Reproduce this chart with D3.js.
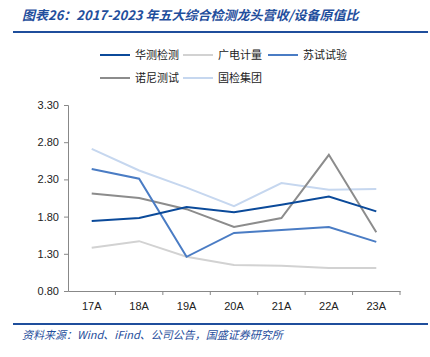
<!DOCTYPE html>
<html><head><meta charset="utf-8">
<script src="https://cdn.jsdelivr.net/npm/d3@7"></script>
<style>body{margin:0;background:#fff}svg{display:block}</style>
</head><body><svg id="c" width="430" height="357"></svg>
<script>
const categories = ["17A","18A","19A","20A","21A","22A","23A"];
const huace   = [1.74,1.78,1.93,1.86,1.96,2.07,1.87];
const grgt    = [1.38,1.47,1.26,1.15,1.14,1.11,1.11];
const sushi   = [2.44,2.31,1.26,1.58,1.62,1.66,1.46];
const nuoni   = [2.11,2.05,1.90,1.66,1.78,2.63,1.59];
const guojian = [2.71,2.42,2.19,1.94,2.25,2.16,2.17];
const seriesNames = ["华测检测","广电计量","苏试试验","诺尼测试","国检集团"];
const seriesColors = ["#0b4a9a","#d2d2d2","#4a7cc4","#8c8c8c","#c6d7ef"];
const yTicks = [0.80,1.30,1.80,2.30,2.80,3.30];
const titleText = "图表26：2017-2023 年五大综合检测龙头营收/设备原值比";
const sourceText = "资料来源：Wind、iFind、公司公告，国盛证券研究所";

const seriesData = [huace, grgt, sushi, nuoni, guojian];
const svg = d3.select("#c");
const font = "'Noto Sans CJK SC', 'Liberation Sans', sans-serif";

svg.append("text").attr("x",22).attr("y",20).attr("fill","#1f4e9c")
  .attr("font-family",font).attr("font-size",13).attr("font-style","italic")
  .attr("font-weight","bold").text(titleText);
svg.append("line").attr("x1",13).attr("x2",428).attr("y1",32).attr("y2",32)
  .attr("stroke","#1f4e9c").attr("stroke-width",2);

const x = d3.scaleBand().domain(categories).range([68,400]);
const y = d3.scaleLinear().domain([0.8,3.3]).range([291,105]);

// y axis
const ya = svg.append("g").attr("transform","translate(68,0)")
  .call(d3.axisLeft(y).tickValues(yTicks).tickFormat(d3.format(".2f")).tickSize(4));
ya.select(".domain").attr("stroke","#888");
ya.selectAll(".tick line").attr("stroke","#888");
ya.selectAll("text").attr("font-family","'Liberation Sans', sans-serif").attr("font-size",11).attr("fill","#222").attr("dx",-2);

// x axis
const xa = svg.append("g").attr("transform","translate(0,291)")
  .call(d3.axisBottom(x).tickSize(0).tickPadding(11));
xa.select(".domain").attr("stroke","#888");
xa.selectAll("text").attr("font-family","'Liberation Sans', sans-serif").attr("font-size",11).attr("fill","#222");
svg.append("g").selectAll("line").data(categories.slice(1).concat(["end"])).join("line")
  .attr("x1",(d,i)=> i<categories.length-1 ? x(d) : x.range()[1])
  .attr("x2",(d,i)=> i<categories.length-1 ? x(d) : x.range()[1])
  .attr("y1",291).attr("y2",295).attr("stroke","#888");

const line = d3.line().x((d,i)=>x(categories[i])+x.bandwidth()/2).y(d=>y(d));
const order = [1,4,3,2,0];
order.forEach(k=>{
  svg.append("path").datum(seriesData[k]).attr("d",line).attr("fill","none")
    .attr("stroke",seriesColors[k]).attr("stroke-width",2);
});

// legend
const legPos = [[100,55],[183,55],[268,55],[100,78],[183,78]];
seriesNames.forEach((n,i)=>{
  const [lx,ly] = legPos[i];
  svg.append("line").attr("x1",lx).attr("x2",lx+30).attr("y1",ly).attr("y2",ly)
    .attr("stroke",seriesColors[i]).attr("stroke-width",2);
  svg.append("text").attr("x",lx+35).attr("y",ly+4).attr("font-family",font)
    .attr("font-size",11).attr("fill","#222").text(n);
});

svg.append("line").attr("x1",13).attr("x2",428).attr("y1",324).attr("y2",324)
  .attr("stroke","#1f4e9c").attr("stroke-width",2);
svg.append("text").attr("x",22).attr("y",339).attr("fill","#1f4e9c")
  .attr("font-family",font).attr("font-size",11).attr("font-style","italic").text(sourceText);
</script></body></html>
